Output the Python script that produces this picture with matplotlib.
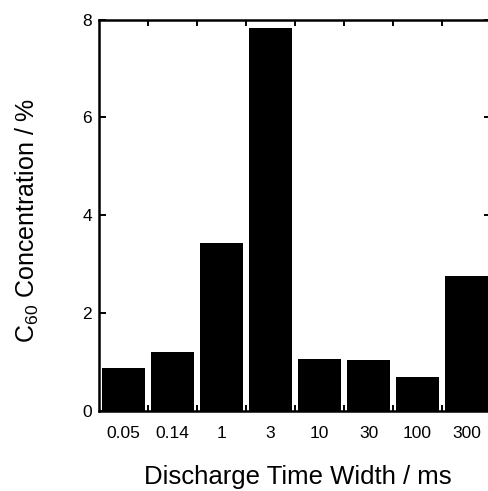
import matplotlib
matplotlib.use("Agg")
import matplotlib.pyplot as plt
import numpy as np

plt.rcParams["font.family"] = ["Liberation Sans", "DejaVu Sans"]
plt.rcParams["mathtext.fontset"] = "custom"
plt.rcParams["mathtext.rm"] = "Liberation Sans"

# discharge time width (ms) and C60 concentration (%)
time_labels = ["0.05", "0.14", "1", "3", "10", "30", "100", "300"]
concentration = [0.87, 1.21, 3.43, 7.82, 1.06, 1.04, 0.70, 2.76]
y_ticks = [0, 2, 4, 6, 8]

fig = plt.figure(figsize=(4.88, 4.91), dpi=100)
# right edge of the frame lies just past the picture, as in the scan
ax = fig.add_axes([99 / 488, 80 / 491, 392 / 488, 391.5 / 491])

x = np.arange(len(concentration))
ax.bar(x, concentration, width=0.87, color="black", edgecolor="none")

ax.set_xlim(-0.5, len(concentration) - 0.5)
ax.set_ylim(0, 8)

ax.set_xticks(x)
ax.set_xticklabels(time_labels)
ax.set_xticks(x[:-1] + 0.5, minor=True)
ax.set_yticks(y_ticks)

ax.tick_params(axis="x", which="major", length=0, pad=11, labelsize=12.5)
ax.tick_params(axis="x", which="minor", direction="in", length=4, width=1.4,
               top=True, bottom=True)
ax.tick_params(axis="y", which="major", direction="in", length=5, width=1.4,
               left=True, right=True, pad=5, labelsize=12.5)

for side in ["left", "bottom", "top", "right"]:
    ax.spines[side].set_linewidth(1.8)

fig.text(298 / 488, 1 - 484 / 491, "Discharge Time Width / ms",
         ha="center", va="baseline", fontsize=18.5)
fig.text(27 / 488, 1 - 220 / 491, r"C$_{\mathregular{60}}$ Concentration / %",
         ha="center", va="center", rotation=90, fontsize=18)

fig.savefig("out.png", dpi=100)
